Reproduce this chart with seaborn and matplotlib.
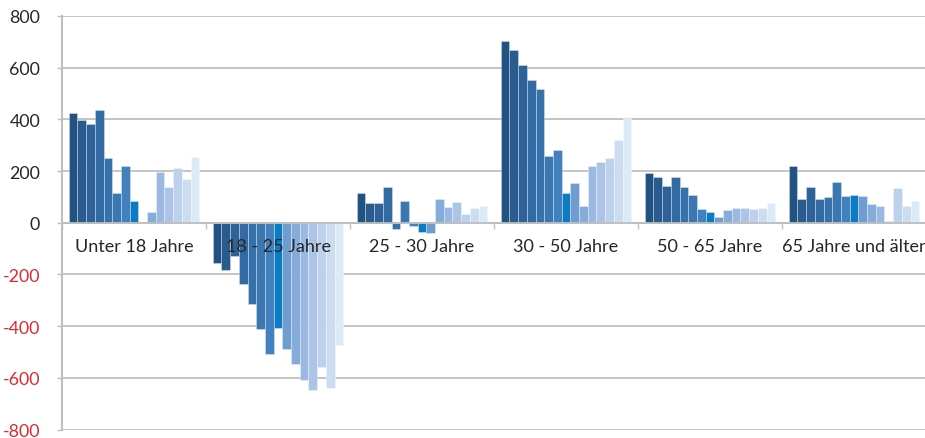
import matplotlib
matplotlib.use("Agg")
import matplotlib.pyplot as plt
import matplotlib.transforms as mtransforms
import numpy as np
import pandas as pd
import seaborn as sns

categories = ["Unter 18 Jahre", "18 - 25 Jahre", "25 - 30 Jahre",
              "30 - 50 Jahre", "50 - 65 Jahre", "65 Jahre und älter"]
series = [f"Reihe {i}" for i in range(1, 16)]

values_u18 = [423, 397, 383, 436, 251, 114, 220, 84, 0, 40, 195, 139, 212, 168, 255]
values_18_25 = [-157, -183, -129, -238, -313, -410, -507, -406, -488, -546, -610, -649, -559, -639, -474]
values_25_30 = [114, 75, 76, 139, -23, 85, -12, -36, -38, 91, 62, 81, 32, 57, 63]
values_30_50 = [703, 669, 610, 551, 519, 259, 282, 115, 155, 63, 219, 235, 250, 320, 409]
values_50_65 = [193, 176, 142, 176, 139, 108, 53, 43, 22, 49, 58, 58, 52, 58, 76]
values_65 = [221, 90, 140, 92, 100, 157, 105, 109, 104, 74, 66, 5, 135, 65, 83]

y_ticks = [-800, -600, -400, -200, 0, 200, 400, 600, 800]

palette = ["#215283", "#2A5B8F", "#2E6399", "#346AA3", "#3771AB", "#3B77B1",
           "#4281BD", "#0A7CC4", "#6F9DD0", "#85ACDB", "#9AB8E1", "#AEC4E7",
           "#BDD0EC", "#CCDDF2", "#DCE9F7"]

all_values = [values_u18, values_18_25, values_25_30, values_30_50, values_50_65, values_65]
rows = []
for cat, vals in zip(categories, all_values):
    for s, v in zip(series, vals):
        rows.append({"Gruppe": cat, "Reihe": s, "Wert": v})
df = pd.DataFrame(rows)

sns.set_theme(style="white")
plt.rcParams["font.family"] = ["Lato", "DejaVu Sans"]

W, H, DPI = 925, 439, 100
fig = plt.figure(figsize=(W / DPI, H / DPI), dpi=DPI)
ax = fig.add_axes([62 / W, (H - 430.5) / H, 864 / W, (430.5 - 17) / H])

grid_c = "#BFBFBF"
for t in y_ticks:
    ax.axhline(t, color=grid_c, lw=1.3, zorder=0)

sns.barplot(data=df, x="Gruppe", y="Wert", hue="Reihe", order=categories,
            hue_order=series, palette=palette, saturation=1, width=0.906, gap=0,
            dodge=True, legend=False, ax=ax, edgecolor=(1, 1, 1, 0.45),
            linewidth=0.5, zorder=2)

ax.set_ylim(-800, 800)
ax.set_xlim(-0.5, 5.5)
ax.set_xlabel("")
ax.set_ylabel("")
ax.set_yticks(y_ticks)
ax.set_yticklabels([str(t) for t in y_ticks])
for lab, t in zip(ax.get_yticklabels(), y_ticks):
    lab.set_color("#D92B33" if t < 0 else "#262626")
ax.tick_params(axis="y", length=3.8, width=1.0, color=grid_c, pad=12,
               labelsize=12.8, left=True, direction="out")

# x axis at zero with boundary ticks
ax.spines["bottom"].set_position(("data", 0))
ax.spines["bottom"].set_color(grid_c)
ax.spines["bottom"].set_linewidth(1.3)
ax.spines["left"].set_color(grid_c)
ax.spines["left"].set_linewidth(1.5)
ax.spines["top"].set_visible(False)
ax.spines["right"].set_visible(False)
ax.set_xticks(np.arange(-0.5, 6.0, 1.0))
ax.set_xticklabels([])
ax.tick_params(axis="x", length=4, width=1.0, color=grid_c, direction="out", bottom=True)

trans = mtransforms.offset_copy(ax.transData, fig=fig, x=0, y=-23.5 * 72 / DPI, units="points")
for i, cat in enumerate(categories):
    ax.text(i, 0, cat, transform=trans, ha="center", va="center",
            fontsize=13, color="#262626", zorder=5)

fig.savefig("out.png", dpi=DPI)
